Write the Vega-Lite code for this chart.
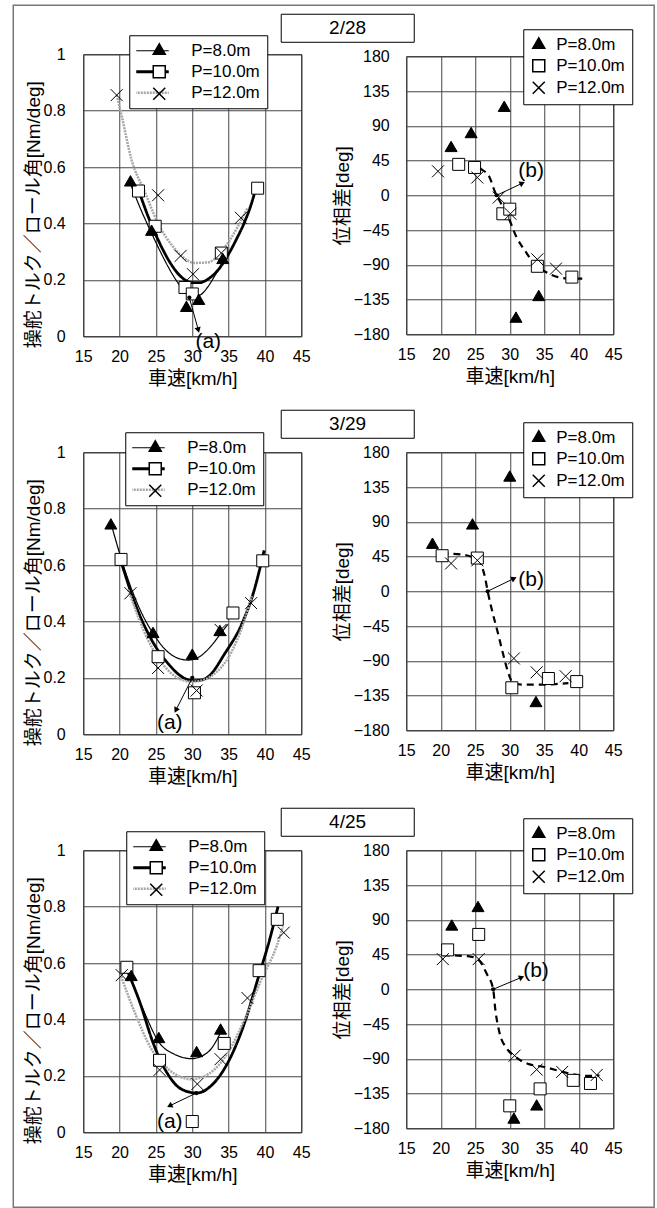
{
"$schema": "https://vega.github.io/schema/vega-lite/v6.json",
"padding": {"left": 11.25, "top": 3.25, "right": 3.25, "bottom": 1.25},
"config": {
 "font": "Liberation Sans, Noto Sans CJK JP, sans-serif",
 "text": {"font": "Liberation Sans, Noto Sans CJK JP, sans-serif"},
 "view": {"stroke": "#000", "strokeWidth": 1},
 "axis": {"grid": true, "gridColor": "#444", "gridWidth": 1, "gridOpacity": 1, "domain": false, "ticks": false, "tickSize": 0, "labelFontSize": 16, "labelColor": "#000", "labelFlush": false, "labelOverlap": false, "titleFontSize": 19, "titleFontWeight": "normal", "titleColor": "#000"},
 "legend": {"labelColor": "#000"}
},
"datasets": {
 "dates": [{"date": "2/28"}, {"date": "3/29"}, {"date": "4/25"}],
 "pts": [
  {"date":"2/28","P":10,"speed":22.6,"ratio":0.515,"phase":40},
  {"date":"2/28","P":10,"speed":24.9,"ratio":0.39,"phase":36},
  {"date":"2/28","P":10,"speed":29.0,"ratio":0.173,"phase":-24},
  {"date":"2/28","P":10,"speed":30.0,"ratio":0.15,"phase":-18},
  {"date":"2/28","P":10,"speed":34.0,"ratio":0.295,"phase":-92},
  {"date":"2/28","P":10,"speed":39.0,"ratio":0.525,"phase":-106},
  {"date":"2/28","P":12,"speed":19.6,"ratio":0.855,"phase":31},
  {"date":"2/28","P":12,"speed":25.3,"ratio":0.50,"phase":23},
  {"date":"2/28","P":12,"speed":28.4,"ratio":0.285,"phase":-3},
  {"date":"2/28","P":12,"speed":30.1,"ratio":0.22,"phase":-24},
  {"date":"2/28","P":12,"speed":34.0,"ratio":0.295,"phase":-83},
  {"date":"2/28","P":12,"speed":36.7,"ratio":0.42,"phase":-95},
  {"date":"2/28","P":8,"speed":21.5,"ratio":0.545,"phase":61},
  {"date":"2/28","P":8,"speed":24.4,"ratio":0.37,"phase":79},
  {"date":"2/28","P":8,"speed":29.2,"ratio":0.10,"phase":113},
  {"date":"2/28","P":8,"speed":30.9,"ratio":0.125,"phase":-160},
  {"date":"2/28","P":8,"speed":34.2,"ratio":0.27,"phase":-132},
  {"date":"3/29","P":10,"speed":20.2,"ratio":0.62,"phase":46},
  {"date":"3/29","P":10,"speed":25.3,"ratio":0.275,"phase":43},
  {"date":"3/29","P":10,"speed":30.3,"ratio":0.147,"phase":-125},
  {"date":"3/29","P":10,"speed":35.6,"ratio":0.43,"phase":-113},
  {"date":"3/29","P":10,"speed":39.7,"ratio":0.615,"phase":-117},
  {"date":"3/29","P":12,"speed":21.5,"ratio":0.50,"phase":36},
  {"date":"3/29","P":12,"speed":25.3,"ratio":0.235,"phase":40},
  {"date":"3/29","P":12,"speed":30.6,"ratio":0.155,"phase":-87},
  {"date":"3/29","P":12,"speed":33.9,"ratio":0.37,"phase":-105},
  {"date":"3/29","P":12,"speed":38.1,"ratio":0.465,"phase":-110},
  {"date":"3/29","P":8,"speed":18.8,"ratio":0.74,"phase":60},
  {"date":"3/29","P":8,"speed":24.6,"ratio":0.355,"phase":85},
  {"date":"3/29","P":8,"speed":30.0,"ratio":0.278,"phase":147},
  {"date":"3/29","P":8,"speed":33.8,"ratio":0.362,"phase":-145},
  {"date":"4/25","P":10,"speed":21.0,"ratio":0.585,"phase":51},
  {"date":"4/25","P":10,"speed":25.5,"ratio":0.255,"phase":71},
  {"date":"4/25","P":10,"speed":30.0,"ratio":0.038,"phase":-151},
  {"date":"4/25","P":10,"speed":34.4,"ratio":0.315,"phase":-129},
  {"date":"4/25","P":10,"speed":39.2,"ratio":0.573,"phase":-118},
  {"date":"4/25","P":10,"speed":41.7,"ratio":0.755,"phase":-122},
  {"date":"4/25","P":12,"speed":20.3,"ratio":0.557,"phase":39},
  {"date":"4/25","P":12,"speed":25.5,"ratio":0.221,"phase":39},
  {"date":"4/25","P":12,"speed":30.7,"ratio":0.171,"phase":-86},
  {"date":"4/25","P":12,"speed":33.9,"ratio":0.259,"phase":-104},
  {"date":"4/25","P":12,"speed":37.6,"ratio":0.476,"phase":-107},
  {"date":"4/25","P":12,"speed":42.6,"ratio":0.708,"phase":-111},
  {"date":"4/25","P":8,"speed":21.6,"ratio":0.55,"phase":81},
  {"date":"4/25","P":8,"speed":25.4,"ratio":0.33,"phase":105},
  {"date":"4/25","P":8,"speed":30.6,"ratio":0.28,"phase":-169},
  {"date":"4/25","P":8,"speed":33.9,"ratio":0.36,"phase":-152}
 ],
 "fitL": [
  {"date":"2/28","P":8,"speed":21.5,"ratio":0.54},{"date":"2/28","P":8,"speed":23.0,"ratio":0.445},{"date":"2/28","P":8,"speed":24.5,"ratio":0.36},{"date":"2/28","P":8,"speed":26.0,"ratio":0.28},{"date":"2/28","P":8,"speed":27.5,"ratio":0.21},{"date":"2/28","P":8,"speed":29.0,"ratio":0.158},{"date":"2/28","P":8,"speed":30.0,"ratio":0.14},{"date":"2/28","P":8,"speed":31.0,"ratio":0.145},{"date":"2/28","P":8,"speed":32.0,"ratio":0.17},{"date":"2/28","P":8,"speed":33.0,"ratio":0.21},{"date":"2/28","P":8,"speed":34.5,"ratio":0.28},
  {"date":"2/28","P":10,"speed":22.6,"ratio":0.52},{"date":"2/28","P":10,"speed":24.0,"ratio":0.42},{"date":"2/28","P":10,"speed":24.9,"ratio":0.365},{"date":"2/28","P":10,"speed":26.0,"ratio":0.305},{"date":"2/28","P":10,"speed":27.1,"ratio":0.255},{"date":"2/28","P":10,"speed":28.5,"ratio":0.21},{"date":"2/28","P":10,"speed":30.0,"ratio":0.19},{"date":"2/28","P":10,"speed":31.0,"ratio":0.19},{"date":"2/28","P":10,"speed":32.0,"ratio":0.2},{"date":"2/28","P":10,"speed":33.1,"ratio":0.222},{"date":"2/28","P":10,"speed":34.0,"ratio":0.25},{"date":"2/28","P":10,"speed":34.9,"ratio":0.287},{"date":"2/28","P":10,"speed":36.0,"ratio":0.34},{"date":"2/28","P":10,"speed":37.2,"ratio":0.405},{"date":"2/28","P":10,"speed":38.2,"ratio":0.475},{"date":"2/28","P":10,"speed":38.9,"ratio":0.54},
  {"date":"2/28","P":12,"speed":19.6,"ratio":0.855},{"date":"2/28","P":12,"speed":20.3,"ratio":0.78},{"date":"2/28","P":12,"speed":21.6,"ratio":0.63},{"date":"2/28","P":12,"speed":23.5,"ratio":0.51},{"date":"2/28","P":12,"speed":25.3,"ratio":0.4},{"date":"2/28","P":12,"speed":27.6,"ratio":0.31},{"date":"2/28","P":12,"speed":29.0,"ratio":0.275},{"date":"2/28","P":12,"speed":30.3,"ratio":0.26},{"date":"2/28","P":12,"speed":32.2,"ratio":0.262},{"date":"2/28","P":12,"speed":34.0,"ratio":0.3},{"date":"2/28","P":12,"speed":36.3,"ratio":0.39},{"date":"2/28","P":12,"speed":37.6,"ratio":0.455},
  {"date":"3/29","P":8,"speed":18.9,"ratio":0.74},{"date":"3/29","P":8,"speed":20.5,"ratio":0.6},{"date":"3/29","P":8,"speed":22.5,"ratio":0.46},{"date":"3/29","P":8,"speed":24.8,"ratio":0.35},{"date":"3/29","P":8,"speed":26.5,"ratio":0.295},{"date":"3/29","P":8,"speed":28.0,"ratio":0.27},{"date":"3/29","P":8,"speed":29.4,"ratio":0.263},{"date":"3/29","P":8,"speed":31.0,"ratio":0.275},{"date":"3/29","P":8,"speed":32.5,"ratio":0.31},{"date":"3/29","P":8,"speed":34.0,"ratio":0.36},{"date":"3/29","P":8,"speed":34.9,"ratio":0.39},
  {"date":"3/29","P":10,"speed":20.2,"ratio":0.613},{"date":"3/29","P":10,"speed":22.1,"ratio":0.465},{"date":"3/29","P":10,"speed":24.4,"ratio":0.335},{"date":"3/29","P":10,"speed":26.7,"ratio":0.25},{"date":"3/29","P":10,"speed":28.5,"ratio":0.205},{"date":"3/29","P":10,"speed":30.0,"ratio":0.19},{"date":"3/29","P":10,"speed":31.2,"ratio":0.192},{"date":"3/29","P":10,"speed":32.2,"ratio":0.204},{"date":"3/29","P":10,"speed":34.5,"ratio":0.287},{"date":"3/29","P":10,"speed":36.8,"ratio":0.39},{"date":"3/29","P":10,"speed":38.4,"ratio":0.5},{"date":"3/29","P":10,"speed":39.9,"ratio":0.652},
  {"date":"3/29","P":12,"speed":21.2,"ratio":0.512},{"date":"3/29","P":12,"speed":23.9,"ratio":0.335},{"date":"3/29","P":12,"speed":26.2,"ratio":0.24},{"date":"3/29","P":12,"speed":28.0,"ratio":0.2},{"date":"3/29","P":12,"speed":29.9,"ratio":0.186},{"date":"3/29","P":12,"speed":31.2,"ratio":0.19},{"date":"3/29","P":12,"speed":32.6,"ratio":0.206},{"date":"3/29","P":12,"speed":35.4,"ratio":0.292},{"date":"3/29","P":12,"speed":37.0,"ratio":0.39},{"date":"3/29","P":12,"speed":38.2,"ratio":0.49},
  {"date":"4/25","P":8,"speed":21.55,"ratio":0.547},{"date":"4/25","P":8,"speed":23.5,"ratio":0.42},{"date":"4/25","P":8,"speed":25.4,"ratio":0.32},{"date":"4/25","P":8,"speed":27.6,"ratio":0.276},{"date":"4/25","P":8,"speed":29.9,"ratio":0.261},{"date":"4/25","P":8,"speed":32.2,"ratio":0.285},{"date":"4/25","P":8,"speed":33.9,"ratio":0.353},
  {"date":"4/25","P":10,"speed":21.2,"ratio":0.565},{"date":"4/25","P":10,"speed":22.8,"ratio":0.46},{"date":"4/25","P":10,"speed":24.6,"ratio":0.318},{"date":"4/25","P":10,"speed":26.5,"ratio":0.212},{"date":"4/25","P":10,"speed":28.5,"ratio":0.153},{"date":"4/25","P":10,"speed":30.6,"ratio":0.139},{"date":"4/25","P":10,"speed":32.6,"ratio":0.165},{"date":"4/25","P":10,"speed":34.9,"ratio":0.247},{"date":"4/25","P":10,"speed":37.2,"ratio":0.388},{"date":"4/25","P":10,"speed":39.0,"ratio":0.541},{"date":"4/25","P":10,"speed":40.7,"ratio":0.688},{"date":"4/25","P":10,"speed":41.8,"ratio":0.8},
  {"date":"4/25","P":12,"speed":20.2,"ratio":0.553},{"date":"4/25","P":12,"speed":22.1,"ratio":0.424},{"date":"4/25","P":12,"speed":24.4,"ratio":0.294},{"date":"4/25","P":12,"speed":26.7,"ratio":0.224},{"date":"4/25","P":12,"speed":29.9,"ratio":0.188},{"date":"4/25","P":12,"speed":32.2,"ratio":0.206},{"date":"4/25","P":12,"speed":34.9,"ratio":0.282},{"date":"4/25","P":12,"speed":37.2,"ratio":0.4},{"date":"4/25","P":12,"speed":39.5,"ratio":0.541},{"date":"4/25","P":12,"speed":41.6,"ratio":0.659},{"date":"4/25","P":12,"speed":42.5,"ratio":0.73}
 ],
 "fitR": [
  {"date":"2/28","speed":22.3,"phase":41},{"date":"2/28","speed":24.0,"phase":40},{"date":"2/28","speed":25.9,"phase":33.5},{"date":"2/28","speed":27.1,"phase":22.8},{"date":"2/28","speed":27.8,"phase":5.6},{"date":"2/28","speed":28.8,"phase":-11.6},{"date":"2/28","speed":29.8,"phase":-28.8},{"date":"2/28","speed":31.0,"phase":-54.6},{"date":"2/28","speed":32.2,"phase":-71.8},{"date":"2/28","speed":33.6,"phase":-89},{"date":"2/28","speed":35.3,"phase":-99.7},{"date":"2/28","speed":37.0,"phase":-106},{"date":"2/28","speed":38.9,"phase":-108},{"date":"2/28","speed":40.6,"phase":-108},
  {"date":"3/29","speed":20.1,"phase":49},{"date":"3/29","speed":23.0,"phase":47.7},{"date":"3/29","speed":25.4,"phase":40},{"date":"3/29","speed":26.4,"phase":18.5},{"date":"3/29","speed":26.8,"phase":0},{"date":"3/29","speed":27.3,"phase":-20},{"date":"3/29","speed":28.3,"phase":-54.6},{"date":"3/29","speed":29.0,"phase":-80},{"date":"3/29","speed":29.8,"phase":-106},{"date":"3/29","speed":30.5,"phase":-119},{"date":"3/29","speed":32.2,"phase":-121},{"date":"3/29","speed":34.6,"phase":-121},{"date":"3/29","speed":37.0,"phase":-120},{"date":"3/29","speed":38.5,"phase":-119},
  {"date":"4/25","speed":20.3,"phase":44},{"date":"4/25","speed":23.9,"phase":42.9},{"date":"4/25","speed":25.4,"phase":38.6},{"date":"4/25","speed":26.7,"phase":19.3},{"date":"4/25","speed":27.6,"phase":0},{"date":"4/25","speed":27.9,"phase":-25.7},{"date":"4/25","speed":28.5,"phase":-55.7},{"date":"4/25","speed":29.6,"phase":-77},{"date":"4/25","speed":30.7,"phase":-86.6},{"date":"4/25","speed":32.6,"phase":-96.4},{"date":"4/25","speed":35.0,"phase":-100.7},{"date":"4/25","speed":37.4,"phase":-106.3},{"date":"4/25","speed":39.4,"phase":-110.6},{"date":"4/25","speed":41.3,"phase":-112.3},{"date":"4/25","speed":43.0,"phase":-111.5}
 ],
 "ann": [
  {"date":"2/28","k":"a","role":"start","speed":29.6,"ratio":0.137},
  {"date":"2/28","k":"a","role":"end","speed":30.8,"ratio":0.025},
  {"date":"2/28","k":"a","role":"text","speed":32.2,"ratio":-0.021,"label":"(a)"},
  {"date":"3/29","k":"a","role":"start","speed":30.0,"ratio":0.2},
  {"date":"3/29","k":"a","role":"end","speed":27.8,"ratio":0.088},
  {"date":"3/29","k":"a","role":"text","speed":26.9,"ratio":0.04,"label":"(a)"},
  {"date":"4/25","k":"a","role":"start","speed":30.55,"ratio":0.139},
  {"date":"4/25","k":"a","role":"end","speed":27.0,"ratio":0.095},
  {"date":"4/25","k":"a","role":"text","speed":26.9,"ratio":0.037,"label":"(a)"},
  {"date":"2/28","k":"b","role":"start","speed":28.1,"phase":0},
  {"date":"2/28","k":"b","role":"end","speed":31.7,"phase":15},
  {"date":"2/28","k":"b","role":"text","speed":33.1,"phase":32,"label":"(b)"},
  {"date":"3/29","k":"b","role":"start","speed":26.8,"phase":0},
  {"date":"3/29","k":"b","role":"end","speed":30.5,"phase":16},
  {"date":"3/29","k":"b","role":"text","speed":33.1,"phase":14,"label":"(b)"},
  {"date":"4/25","k":"b","role":"start","speed":27.6,"phase":0},
  {"date":"4/25","k":"b","role":"end","speed":31.6,"phase":15},
  {"date":"4/25","k":"b","role":"text","speed":33.8,"phase":24,"label":"(b)"}
 ]
},
"columns": 2,
"spacing": {"row": 116, "column": 105},
"bounds": "flush",
"align": "each",
"center": true,
"resolve": {"scale": {"fill": "independent", "shape": "independent", "stroke": "independent", "strokeDash": "independent"}, "legend": {"fill": "independent", "shape": "independent", "stroke": "independent", "strokeDash": "independent"}},
"concat": [
  {"width": 218, "height": 282,
   "layer": [
    {"data": {"name": "dates"}, "transform": [{"filter": "datum.date == '2/28'"}],
     "mark": {"type": "rect", "fill": "#fff", "fillOpacity": 0, "stroke": "#777", "strokeWidth": 1.5},
     "encoding": {"x": {"datum": 5.37, "type": "quantitative", "title": "車速[km/h]", "scale": {"domain": [15, 45], "nice": false, "zero": false}, "axis": {"values": [15,20,25,30,35,40,45], "tickCount": 20, "labelPadding": 12, "titlePadding": 5, "title": "車速[km/h]"}}, "x2": {"datum": 93.57}, "y": {"datum": 1.1738, "type": "quantitative", "title": "操舵トルク／ロール角[Nm/deg]", "scale": {"domain": [0, 1], "nice": false, "zero": false}, "axis": {"values": [0,0.2,0.4,0.6,0.8,1], "tickCount": 20, "format": ".1~f", "labelPadding": 18, "titlePadding": 0, "titleY": 160, "title": "操舵トルク／ロール角[Nm/deg]"}}, "y2": {"datum": -3.0887}}},
    {"data": {"name": "fitL"}, "transform": [{"filter": "datum.date == '2/28'"}],
     "mark": {"type": "line", "interpolate": "monotone"},
     "encoding": {
      "x": {"field": "speed", "type": "quantitative", "title": "車速[km/h]", "scale": {"domain": [15, 45], "nice": false, "zero": false}, "axis": {"values": [15,20,25,30,35,40,45], "tickCount": 20, "labelPadding": 12, "titlePadding": 5, "title": "車速[km/h]"}},
      "y": {"field": "ratio", "type": "quantitative", "title": "操舵トルク／ロール角[Nm/deg]", "scale": {"domain": [0, 1], "nice": false, "zero": false}, "axis": {"values": [0,0.2,0.4,0.6,0.8,1], "tickCount": 20, "format": ".1~f", "labelPadding": 18, "titlePadding": 0, "titleY": 160, "title": "操舵トルク／ロール角[Nm/deg]"}},
      "stroke": {"field": "P", "type": "ordinal", "scale": {"range": ["#000", "#000", "#a6a6a6"]}, "legend": {"orient": "none", "legendX": 46, "legendY": -19, "title": null, "labelExpr": "'P=' + format(datum.value, '.1f') + 'm'", "labelFontSize": 17, "labelOffset": 31, "symbolType": "stroke", "symbolSize": 1156, "symbolOffset": 7, "clipHeight": 17, "padding": 7, "rowPadding": 3, "strokeColor": "#000", "fillColor": "#fff", "encode": {"symbols": {"update": {"strokeWidth": {"signal": "datum.value == 10 ? 2.8 : datum.value == 12 ? 2.5 : 1.2"}}}}}},
      "strokeDash": {"field": "P", "type": "ordinal", "scale": {"range": [[1,0],[1,0],[2,1]]}, "legend": {"orient": "none", "legendX": 46, "legendY": -19, "title": null, "labelExpr": "'P=' + format(datum.value, '.1f') + 'm'", "labelFontSize": 17, "labelOffset": 31, "symbolType": "stroke", "symbolSize": 1156, "symbolOffset": 7, "clipHeight": 17, "padding": 7, "rowPadding": 3, "strokeColor": "#000", "fillColor": "#fff"}},
      "strokeWidth": {"condition": [{"test": "datum.P == 10", "value": 2.8}, {"test": "datum.P == 12", "value": 2.5}], "value": 1.2}
     }},
    {"data": {"name": "pts"}, "transform": [{"filter": "datum.date == '2/28'"}],
     "mark": {"type": "point", "filled": true, "stroke": "#000", "strokeWidth": 1, "size": 144, "opacity": 1},
     "encoding": {
      "x": {"field": "speed", "type": "quantitative", "title": "車速[km/h]", "axis": {"values": [15,20,25,30,35,40,45], "tickCount": 20, "labelPadding": 12, "titlePadding": 5, "title": "車速[km/h]"}},
      "y": {"field": "ratio", "type": "quantitative", "title": "操舵トルク／ロール角[Nm/deg]", "axis": {"values": [0,0.2,0.4,0.6,0.8,1], "tickCount": 20, "format": ".1~f", "labelPadding": 18, "titlePadding": 0, "titleY": 160, "title": "操舵トルク／ロール角[Nm/deg]"}},
      "fill": {"field": "P", "type": "ordinal", "scale": {"range": ["#000", "#fff", "#000"]}, "legend": {"orient": "none", "legendX": 46, "legendY": -19, "title": null, "labelExpr": "''", "labelOpacity": 0, "labelFontSize": 17, "labelOffset": 42.5, "symbolOffset": 14.5, "symbolSize": 144, "padding": 7, "rowPadding": 3, "encode": {"symbols": {"update": {"stroke": {"value": "#000"}, "strokeWidth": {"value": 1}}}}}},
      "shape": {"field": "P", "type": "ordinal", "scale": {"range": ["triangle", "square", "M-1,-1L1,1M-1,1L1,-1"]}, "legend": {"orient": "none", "legendX": 46, "legendY": -19, "title": null, "labelExpr": "''", "labelOpacity": 0, "labelFontSize": 17, "labelOffset": 42.5, "symbolOffset": 14.5, "symbolSize": 144, "padding": 7, "rowPadding": 3}}
     }},
    {"data": {"name": "ann"}, "transform": [{"filter": "datum.date == '2/28' && datum.k == 'a' && datum.role != 'text'"}],
     "mark": {"type": "line", "stroke": "#000", "strokeWidth": 1},
     "encoding": {"x": {"field": "speed", "type": "quantitative", "title": "車速[km/h]"}, "y": {"field": "ratio", "type": "quantitative", "title": "操舵トルク／ロール角[Nm/deg]"}}},
    {"data": {"name": "ann"}, "transform": [{"filter": "datum.date == '2/28' && datum.k == 'a' && datum.role == 'start'"}],
     "mark": {"type": "point", "shape": "circle", "filled": true, "fill": "#000", "size": 18, "opacity": 1},
     "encoding": {"x": {"field": "speed", "type": "quantitative", "title": "車速[km/h]"}, "y": {"field": "ratio", "type": "quantitative", "title": "操舵トルク／ロール角[Nm/deg]"}}},
    {"data": {"name": "ann"}, "transform": [{"filter": "datum.date == '2/28' && datum.k == 'a' && datum.role == 'end'"}],
     "mark": {"type": "point", "shape": "triangle", "filled": true, "fill": "#000", "size": 40, "angle": 164.6, "opacity": 1},
     "encoding": {"x": {"field": "speed", "type": "quantitative", "title": "車速[km/h]"}, "y": {"field": "ratio", "type": "quantitative", "title": "操舵トルク／ロール角[Nm/deg]"}}},
    {"data": {"name": "ann"}, "transform": [{"filter": "datum.date == '2/28' && datum.k == 'a' && datum.role == 'text'"}],
     "mark": {"type": "text", "fontSize": 21, "align": "center", "baseline": "middle", "color": "#000"},
     "encoding": {"x": {"field": "speed", "type": "quantitative", "title": "車速[km/h]"}, "y": {"field": "ratio", "type": "quantitative", "title": "操舵トルク／ロール角[Nm/deg]"}, "text": {"field": "label"}}}
   ]},
  {"width": 207, "height": 278,
   "layer": [
    {"data": {"name": "dates"}, "transform": [{"filter": "datum.date == '2/28'"}],
     "mark": {"type": "rect", "fill": "#fff", "stroke": "#000", "strokeWidth": 1},
     "encoding": {"x": {"datum": -3.12, "type": "quantitative", "title": "車速[km/h]", "scale": {"domain": [15, 45], "nice": false, "zero": false}, "axis": {"values": [15,20,25,30,35,40,45], "tickCount": 20, "labelPadding": 12, "titlePadding": 5, "title": "車速[km/h]"}}, "x2": {"datum": 16.16}, "y": {"datum": 234.4, "type": "quantitative", "title": "位相差[deg]", "scale": {"domain": [-180, 180], "nice": false, "zero": false}, "axis": {"values": [-180,-135,-90,-45,0,45,90,135,180], "tickCount": 20, "labelPadding": 17, "titlePadding": 1, "title": "位相差[deg]"}}, "y2": {"datum": 198.1}}},
    {"data": {"name": "dates"}, "transform": [{"filter": "datum.date == '2/28'"}],
     "mark": {"type": "text", "fontSize": 19, "align": "center", "baseline": "middle", "color": "#000"},
     "encoding": {"x": {"datum": 6.5, "type": "quantitative", "title": "車速[km/h]"}, "y": {"datum": 216, "type": "quantitative", "title": "位相差[deg]"}, "text": {"field": "date"}}},
    {"data": {"name": "fitR"}, "transform": [{"filter": "datum.date == '2/28'"}],
     "mark": {"type": "line", "interpolate": "monotone", "stroke": "#000", "strokeWidth": 2.2, "strokeDash": [7, 5]},
     "encoding": {
      "x": {"field": "speed", "type": "quantitative", "title": "車速[km/h]", "scale": {"domain": [15, 45], "nice": false, "zero": false}, "axis": {"values": [15,20,25,30,35,40,45], "tickCount": 20, "labelPadding": 12, "titlePadding": 5, "title": "車速[km/h]"}},
      "y": {"field": "phase", "type": "quantitative", "title": "位相差[deg]", "scale": {"domain": [-180, 180], "nice": false, "zero": false}, "axis": {"values": [-180,-135,-90,-45,0,45,90,135,180], "tickCount": 20, "labelPadding": 17, "titlePadding": 1, "title": "位相差[deg]"}}
     }},
    {"data": {"name": "pts"}, "transform": [{"filter": "datum.date == '2/28'"}],
     "mark": {"type": "point", "filled": true, "stroke": "#000", "strokeWidth": 1, "size": 144, "opacity": 1},
     "encoding": {
      "x": {"field": "speed", "type": "quantitative", "title": "車速[km/h]", "axis": {"values": [15,20,25,30,35,40,45], "tickCount": 20, "labelPadding": 12, "titlePadding": 5, "title": "車速[km/h]"}},
      "y": {"field": "phase", "type": "quantitative", "title": "位相差[deg]", "axis": {"values": [-180,-135,-90,-45,0,45,90,135,180], "tickCount": 20, "labelPadding": 17, "titlePadding": 1, "title": "位相差[deg]"}},
      "fill": {"field": "P", "type": "ordinal", "scale": {"range": ["#000", "#fff", "#000"]}, "legend": {"orient": "none", "legendX": 117, "legendY": -27, "title": null, "labelExpr": "'P=' + format(datum.value, '.1f') + 'm'", "labelFontSize": 17, "labelOffset": 9, "symbolOffset": 0, "symbolSize": 144, "padding": 7, "rowPadding": 3, "strokeColor": "#000", "fillColor": "#fff", "encode": {"symbols": {"update": {"stroke": {"value": "#000"}, "strokeWidth": {"value": 1}}}}}},
      "shape": {"field": "P", "type": "ordinal", "scale": {"range": ["triangle", "square", "M-1,-1L1,1M-1,1L1,-1"]}, "legend": {"orient": "none", "legendX": 117, "legendY": -27, "title": null, "labelExpr": "'P=' + format(datum.value, '.1f') + 'm'", "labelFontSize": 17, "labelOffset": 9, "symbolOffset": 0, "symbolSize": 144, "padding": 7, "rowPadding": 3, "strokeColor": "#000", "fillColor": "#fff"}}
     }},
    {"data": {"name": "ann"}, "transform": [{"filter": "datum.date == '2/28' && datum.k == 'b' && datum.role != 'text'"}],
     "mark": {"type": "line", "stroke": "#000", "strokeWidth": 1},
     "encoding": {"x": {"field": "speed", "type": "quantitative", "title": "車速[km/h]"}, "y": {"field": "phase", "type": "quantitative", "title": "位相差[deg]"}}},
    {"data": {"name": "ann"}, "transform": [{"filter": "datum.date == '2/28' && datum.k == 'b' && datum.role == 'start'"}],
     "mark": {"type": "point", "shape": "circle", "filled": true, "fill": "#000", "size": 18, "opacity": 1},
     "encoding": {"x": {"field": "speed", "type": "quantitative", "title": "車速[km/h]"}, "y": {"field": "phase", "type": "quantitative", "title": "位相差[deg]"}}},
    {"data": {"name": "ann"}, "transform": [{"filter": "datum.date == '2/28' && datum.k == 'b' && datum.role == 'end'"}],
     "mark": {"type": "point", "shape": "triangle", "filled": true, "fill": "#000", "size": 40, "angle": 65, "opacity": 1},
     "encoding": {"x": {"field": "speed", "type": "quantitative", "title": "車速[km/h]"}, "y": {"field": "phase", "type": "quantitative", "title": "位相差[deg]"}}},
    {"data": {"name": "ann"}, "transform": [{"filter": "datum.date == '2/28' && datum.k == 'b' && datum.role == 'text'"}],
     "mark": {"type": "text", "fontSize": 21, "align": "center", "baseline": "middle", "color": "#000"},
     "encoding": {"x": {"field": "speed", "type": "quantitative", "title": "車速[km/h]"}, "y": {"field": "phase", "type": "quantitative", "title": "位相差[deg]"}, "text": {"field": "label"}}}
   ]},
  {"width": 218, "height": 282,
   "layer": [
    {"data": {"name": "fitL"}, "transform": [{"filter": "datum.date == '3/29'"}],
     "mark": {"type": "line", "interpolate": "monotone"},
     "encoding": {
      "x": {"field": "speed", "type": "quantitative", "title": "車速[km/h]", "scale": {"domain": [15, 45], "nice": false, "zero": false}, "axis": {"values": [15,20,25,30,35,40,45], "tickCount": 20, "labelPadding": 12, "titlePadding": 5, "title": "車速[km/h]"}},
      "y": {"field": "ratio", "type": "quantitative", "title": "操舵トルク／ロール角[Nm/deg]", "scale": {"domain": [0, 1], "nice": false, "zero": false}, "axis": {"values": [0,0.2,0.4,0.6,0.8,1], "tickCount": 20, "format": ".1~f", "labelPadding": 18, "titlePadding": 0, "titleY": 160, "title": "操舵トルク／ロール角[Nm/deg]"}},
      "stroke": {"field": "P", "type": "ordinal", "scale": {"range": ["#000", "#000", "#a6a6a6"]}, "legend": {"orient": "none", "legendX": 42, "legendY": -20, "title": null, "labelExpr": "'P=' + format(datum.value, '.1f') + 'm'", "labelFontSize": 17, "labelOffset": 31, "symbolType": "stroke", "symbolSize": 1156, "symbolOffset": 7, "clipHeight": 17, "padding": 7, "rowPadding": 3, "strokeColor": "#000", "fillColor": "#fff", "encode": {"symbols": {"update": {"strokeWidth": {"signal": "datum.value == 10 ? 2.8 : datum.value == 12 ? 2.5 : 1.2"}}}}}},
      "strokeDash": {"field": "P", "type": "ordinal", "scale": {"range": [[1,0],[1,0],[2,1]]}, "legend": {"orient": "none", "legendX": 42, "legendY": -20, "title": null, "labelExpr": "'P=' + format(datum.value, '.1f') + 'm'", "labelFontSize": 17, "labelOffset": 31, "symbolType": "stroke", "symbolSize": 1156, "symbolOffset": 7, "clipHeight": 17, "padding": 7, "rowPadding": 3, "strokeColor": "#000", "fillColor": "#fff"}},
      "strokeWidth": {"condition": [{"test": "datum.P == 10", "value": 2.8}, {"test": "datum.P == 12", "value": 2.5}], "value": 1.2}
     }},
    {"data": {"name": "pts"}, "transform": [{"filter": "datum.date == '3/29'"}],
     "mark": {"type": "point", "filled": true, "stroke": "#000", "strokeWidth": 1, "size": 144, "opacity": 1},
     "encoding": {
      "x": {"field": "speed", "type": "quantitative", "title": "車速[km/h]", "axis": {"values": [15,20,25,30,35,40,45], "tickCount": 20, "labelPadding": 12, "titlePadding": 5, "title": "車速[km/h]"}},
      "y": {"field": "ratio", "type": "quantitative", "title": "操舵トルク／ロール角[Nm/deg]", "axis": {"values": [0,0.2,0.4,0.6,0.8,1], "tickCount": 20, "format": ".1~f", "labelPadding": 18, "titlePadding": 0, "titleY": 160, "title": "操舵トルク／ロール角[Nm/deg]"}},
      "fill": {"field": "P", "type": "ordinal", "scale": {"range": ["#000", "#fff", "#000"]}, "legend": {"orient": "none", "legendX": 42, "legendY": -20, "title": null, "labelExpr": "''", "labelOpacity": 0, "labelFontSize": 17, "labelOffset": 42.5, "symbolOffset": 14.5, "symbolSize": 144, "padding": 7, "rowPadding": 3, "encode": {"symbols": {"update": {"stroke": {"value": "#000"}, "strokeWidth": {"value": 1}}}}}},
      "shape": {"field": "P", "type": "ordinal", "scale": {"range": ["triangle", "square", "M-1,-1L1,1M-1,1L1,-1"]}, "legend": {"orient": "none", "legendX": 42, "legendY": -20, "title": null, "labelExpr": "''", "labelOpacity": 0, "labelFontSize": 17, "labelOffset": 42.5, "symbolOffset": 14.5, "symbolSize": 144, "padding": 7, "rowPadding": 3}}
     }},
    {"data": {"name": "ann"}, "transform": [{"filter": "datum.date == '3/29' && datum.k == 'a' && datum.role != 'text'"}],
     "mark": {"type": "line", "stroke": "#000", "strokeWidth": 1},
     "encoding": {"x": {"field": "speed", "type": "quantitative", "title": "車速[km/h]"}, "y": {"field": "ratio", "type": "quantitative", "title": "操舵トルク／ロール角[Nm/deg]"}}},
    {"data": {"name": "ann"}, "transform": [{"filter": "datum.date == '3/29' && datum.k == 'a' && datum.role == 'start'"}],
     "mark": {"type": "point", "shape": "circle", "filled": true, "fill": "#000", "size": 18, "opacity": 1},
     "encoding": {"x": {"field": "speed", "type": "quantitative", "title": "車速[km/h]"}, "y": {"field": "ratio", "type": "quantitative", "title": "操舵トルク／ロール角[Nm/deg]"}}},
    {"data": {"name": "ann"}, "transform": [{"filter": "datum.date == '3/29' && datum.k == 'a' && datum.role == 'end'"}],
     "mark": {"type": "point", "shape": "triangle", "filled": true, "fill": "#000", "size": 40, "angle": 206.9, "opacity": 1},
     "encoding": {"x": {"field": "speed", "type": "quantitative", "title": "車速[km/h]"}, "y": {"field": "ratio", "type": "quantitative", "title": "操舵トルク／ロール角[Nm/deg]"}}},
    {"data": {"name": "ann"}, "transform": [{"filter": "datum.date == '3/29' && datum.k == 'a' && datum.role == 'text'"}],
     "mark": {"type": "text", "fontSize": 21, "align": "center", "baseline": "middle", "color": "#000"},
     "encoding": {"x": {"field": "speed", "type": "quantitative", "title": "車速[km/h]"}, "y": {"field": "ratio", "type": "quantitative", "title": "操舵トルク／ロール角[Nm/deg]"}, "text": {"field": "label"}}}
   ]},
  {"width": 207, "height": 278,
   "layer": [
    {"data": {"name": "dates"}, "transform": [{"filter": "datum.date == '3/29'"}],
     "mark": {"type": "rect", "fill": "#fff", "stroke": "#000", "strokeWidth": 1},
     "encoding": {"x": {"datum": -3.12, "type": "quantitative", "title": "車速[km/h]", "scale": {"domain": [15, 45], "nice": false, "zero": false}, "axis": {"values": [15,20,25,30,35,40,45], "tickCount": 20, "labelPadding": 12, "titlePadding": 5, "title": "車速[km/h]"}}, "x2": {"datum": 16.16}, "y": {"datum": 234.4, "type": "quantitative", "title": "位相差[deg]", "scale": {"domain": [-180, 180], "nice": false, "zero": false}, "axis": {"values": [-180,-135,-90,-45,0,45,90,135,180], "tickCount": 20, "labelPadding": 17, "titlePadding": 1, "title": "位相差[deg]"}}, "y2": {"datum": 198.1}}},
    {"data": {"name": "dates"}, "transform": [{"filter": "datum.date == '3/29'"}],
     "mark": {"type": "text", "fontSize": 19, "align": "center", "baseline": "middle", "color": "#000"},
     "encoding": {"x": {"datum": 6.5, "type": "quantitative", "title": "車速[km/h]"}, "y": {"datum": 216, "type": "quantitative", "title": "位相差[deg]"}, "text": {"field": "date"}}},
    {"data": {"name": "fitR"}, "transform": [{"filter": "datum.date == '3/29'"}],
     "mark": {"type": "line", "interpolate": "monotone", "stroke": "#000", "strokeWidth": 2.2, "strokeDash": [7, 5]},
     "encoding": {
      "x": {"field": "speed", "type": "quantitative", "title": "車速[km/h]", "scale": {"domain": [15, 45], "nice": false, "zero": false}, "axis": {"values": [15,20,25,30,35,40,45], "tickCount": 20, "labelPadding": 12, "titlePadding": 5, "title": "車速[km/h]"}},
      "y": {"field": "phase", "type": "quantitative", "title": "位相差[deg]", "scale": {"domain": [-180, 180], "nice": false, "zero": false}, "axis": {"values": [-180,-135,-90,-45,0,45,90,135,180], "tickCount": 20, "labelPadding": 17, "titlePadding": 1, "title": "位相差[deg]"}}
     }},
    {"data": {"name": "pts"}, "transform": [{"filter": "datum.date == '3/29'"}],
     "mark": {"type": "point", "filled": true, "stroke": "#000", "strokeWidth": 1, "size": 144, "opacity": 1},
     "encoding": {
      "x": {"field": "speed", "type": "quantitative", "title": "車速[km/h]", "axis": {"values": [15,20,25,30,35,40,45], "tickCount": 20, "labelPadding": 12, "titlePadding": 5, "title": "車速[km/h]"}},
      "y": {"field": "phase", "type": "quantitative", "title": "位相差[deg]", "axis": {"values": [-180,-135,-90,-45,0,45,90,135,180], "tickCount": 20, "labelPadding": 17, "titlePadding": 1, "title": "位相差[deg]"}},
      "fill": {"field": "P", "type": "ordinal", "scale": {"range": ["#000", "#fff", "#000"]}, "legend": {"orient": "none", "legendX": 117, "legendY": -30, "title": null, "labelExpr": "'P=' + format(datum.value, '.1f') + 'm'", "labelFontSize": 17, "labelOffset": 9, "symbolOffset": 0, "symbolSize": 144, "padding": 7, "rowPadding": 3, "strokeColor": "#000", "fillColor": "#fff", "encode": {"symbols": {"update": {"stroke": {"value": "#000"}, "strokeWidth": {"value": 1}}}}}},
      "shape": {"field": "P", "type": "ordinal", "scale": {"range": ["triangle", "square", "M-1,-1L1,1M-1,1L1,-1"]}, "legend": {"orient": "none", "legendX": 117, "legendY": -30, "title": null, "labelExpr": "'P=' + format(datum.value, '.1f') + 'm'", "labelFontSize": 17, "labelOffset": 9, "symbolOffset": 0, "symbolSize": 144, "padding": 7, "rowPadding": 3, "strokeColor": "#000", "fillColor": "#fff"}}
     }},
    {"data": {"name": "ann"}, "transform": [{"filter": "datum.date == '3/29' && datum.k == 'b' && datum.role != 'text'"}],
     "mark": {"type": "line", "stroke": "#000", "strokeWidth": 1},
     "encoding": {"x": {"field": "speed", "type": "quantitative", "title": "車速[km/h]"}, "y": {"field": "phase", "type": "quantitative", "title": "位相差[deg]"}}},
    {"data": {"name": "ann"}, "transform": [{"filter": "datum.date == '3/29' && datum.k == 'b' && datum.role == 'start'"}],
     "mark": {"type": "point", "shape": "circle", "filled": true, "fill": "#000", "size": 18, "opacity": 1},
     "encoding": {"x": {"field": "speed", "type": "quantitative", "title": "車速[km/h]"}, "y": {"field": "phase", "type": "quantitative", "title": "位相差[deg]"}}},
    {"data": {"name": "ann"}, "transform": [{"filter": "datum.date == '3/29' && datum.k == 'b' && datum.role == 'end'"}],
     "mark": {"type": "point", "shape": "triangle", "filled": true, "fill": "#000", "size": 40, "angle": 64, "opacity": 1},
     "encoding": {"x": {"field": "speed", "type": "quantitative", "title": "車速[km/h]"}, "y": {"field": "phase", "type": "quantitative", "title": "位相差[deg]"}}},
    {"data": {"name": "ann"}, "transform": [{"filter": "datum.date == '3/29' && datum.k == 'b' && datum.role == 'text'"}],
     "mark": {"type": "text", "fontSize": 21, "align": "center", "baseline": "middle", "color": "#000"},
     "encoding": {"x": {"field": "speed", "type": "quantitative", "title": "車速[km/h]"}, "y": {"field": "phase", "type": "quantitative", "title": "位相差[deg]"}, "text": {"field": "label"}}}
   ]},
  {"width": 218, "height": 282,
   "layer": [
    {"data": {"name": "fitL"}, "transform": [{"filter": "datum.date == '4/25'"}],
     "mark": {"type": "line", "interpolate": "monotone"},
     "encoding": {
      "x": {"field": "speed", "type": "quantitative", "title": "車速[km/h]", "scale": {"domain": [15, 45], "nice": false, "zero": false}, "axis": {"values": [15,20,25,30,35,40,45], "tickCount": 20, "labelPadding": 12, "titlePadding": 5, "title": "車速[km/h]"}},
      "y": {"field": "ratio", "type": "quantitative", "title": "操舵トルク／ロール角[Nm/deg]", "scale": {"domain": [0, 1], "nice": false, "zero": false}, "axis": {"values": [0,0.2,0.4,0.6,0.8,1], "tickCount": 20, "format": ".1~f", "labelPadding": 18, "titlePadding": 0, "titleY": 160, "title": "操舵トルク／ロール角[Nm/deg]"}},
      "stroke": {"field": "P", "type": "ordinal", "scale": {"range": ["#000", "#000", "#a6a6a6"]}, "legend": {"orient": "none", "legendX": 43, "legendY": -19, "title": null, "labelExpr": "'P=' + format(datum.value, '.1f') + 'm'", "labelFontSize": 17, "labelOffset": 31, "symbolType": "stroke", "symbolSize": 1156, "symbolOffset": 7, "clipHeight": 17, "padding": 7, "rowPadding": 3, "strokeColor": "#000", "fillColor": "#fff", "encode": {"symbols": {"update": {"strokeWidth": {"signal": "datum.value == 10 ? 2.8 : datum.value == 12 ? 2.5 : 1.2"}}}}}},
      "strokeDash": {"field": "P", "type": "ordinal", "scale": {"range": [[1,0],[1,0],[2,1]]}, "legend": {"orient": "none", "legendX": 43, "legendY": -19, "title": null, "labelExpr": "'P=' + format(datum.value, '.1f') + 'm'", "labelFontSize": 17, "labelOffset": 31, "symbolType": "stroke", "symbolSize": 1156, "symbolOffset": 7, "clipHeight": 17, "padding": 7, "rowPadding": 3, "strokeColor": "#000", "fillColor": "#fff"}},
      "strokeWidth": {"condition": [{"test": "datum.P == 10", "value": 2.8}, {"test": "datum.P == 12", "value": 2.5}], "value": 1.2}
     }},
    {"data": {"name": "pts"}, "transform": [{"filter": "datum.date == '4/25'"}],
     "mark": {"type": "point", "filled": true, "stroke": "#000", "strokeWidth": 1, "size": 144, "opacity": 1},
     "encoding": {
      "x": {"field": "speed", "type": "quantitative", "title": "車速[km/h]", "axis": {"values": [15,20,25,30,35,40,45], "tickCount": 20, "labelPadding": 12, "titlePadding": 5, "title": "車速[km/h]"}},
      "y": {"field": "ratio", "type": "quantitative", "title": "操舵トルク／ロール角[Nm/deg]", "axis": {"values": [0,0.2,0.4,0.6,0.8,1], "tickCount": 20, "format": ".1~f", "labelPadding": 18, "titlePadding": 0, "titleY": 160, "title": "操舵トルク／ロール角[Nm/deg]"}},
      "fill": {"field": "P", "type": "ordinal", "scale": {"range": ["#000", "#fff", "#000"]}, "legend": {"orient": "none", "legendX": 43, "legendY": -19, "title": null, "labelExpr": "''", "labelOpacity": 0, "labelFontSize": 17, "labelOffset": 42.5, "symbolOffset": 14.5, "symbolSize": 144, "padding": 7, "rowPadding": 3, "encode": {"symbols": {"update": {"stroke": {"value": "#000"}, "strokeWidth": {"value": 1}}}}}},
      "shape": {"field": "P", "type": "ordinal", "scale": {"range": ["triangle", "square", "M-1,-1L1,1M-1,1L1,-1"]}, "legend": {"orient": "none", "legendX": 43, "legendY": -19, "title": null, "labelExpr": "''", "labelOpacity": 0, "labelFontSize": 17, "labelOffset": 42.5, "symbolOffset": 14.5, "symbolSize": 144, "padding": 7, "rowPadding": 3}}
     }},
    {"data": {"name": "ann"}, "transform": [{"filter": "datum.date == '4/25' && datum.k == 'a' && datum.role != 'text'"}],
     "mark": {"type": "line", "stroke": "#000", "strokeWidth": 1},
     "encoding": {"x": {"field": "speed", "type": "quantitative", "title": "車速[km/h]"}, "y": {"field": "ratio", "type": "quantitative", "title": "操舵トルク／ロール角[Nm/deg]"}}},
    {"data": {"name": "ann"}, "transform": [{"filter": "datum.date == '4/25' && datum.k == 'a' && datum.role == 'start'"}],
     "mark": {"type": "point", "shape": "circle", "filled": true, "fill": "#000", "size": 18, "opacity": 1},
     "encoding": {"x": {"field": "speed", "type": "quantitative", "title": "車速[km/h]"}, "y": {"field": "ratio", "type": "quantitative", "title": "操舵トルク／ロール角[Nm/deg]"}}},
    {"data": {"name": "ann"}, "transform": [{"filter": "datum.date == '4/25' && datum.k == 'a' && datum.role == 'end'"}],
     "mark": {"type": "point", "shape": "triangle", "filled": true, "fill": "#000", "size": 40, "angle": 244.3, "opacity": 1},
     "encoding": {"x": {"field": "speed", "type": "quantitative", "title": "車速[km/h]"}, "y": {"field": "ratio", "type": "quantitative", "title": "操舵トルク／ロール角[Nm/deg]"}}},
    {"data": {"name": "ann"}, "transform": [{"filter": "datum.date == '4/25' && datum.k == 'a' && datum.role == 'text'"}],
     "mark": {"type": "text", "fontSize": 21, "align": "center", "baseline": "middle", "color": "#000"},
     "encoding": {"x": {"field": "speed", "type": "quantitative", "title": "車速[km/h]"}, "y": {"field": "ratio", "type": "quantitative", "title": "操舵トルク／ロール角[Nm/deg]"}, "text": {"field": "label"}}}
   ]},
  {"width": 207, "height": 278,
   "layer": [
    {"data": {"name": "dates"}, "transform": [{"filter": "datum.date == '4/25'"}],
     "mark": {"type": "rect", "fill": "#fff", "stroke": "#000", "strokeWidth": 1},
     "encoding": {"x": {"datum": -3.12, "type": "quantitative", "title": "車速[km/h]", "scale": {"domain": [15, 45], "nice": false, "zero": false}, "axis": {"values": [15,20,25,30,35,40,45], "tickCount": 20, "labelPadding": 12, "titlePadding": 5, "title": "車速[km/h]"}}, "x2": {"datum": 16.16}, "y": {"datum": 234.4, "type": "quantitative", "title": "位相差[deg]", "scale": {"domain": [-180, 180], "nice": false, "zero": false}, "axis": {"values": [-180,-135,-90,-45,0,45,90,135,180], "tickCount": 20, "labelPadding": 17, "titlePadding": 1, "title": "位相差[deg]"}}, "y2": {"datum": 198.1}}},
    {"data": {"name": "dates"}, "transform": [{"filter": "datum.date == '4/25'"}],
     "mark": {"type": "text", "fontSize": 19, "align": "center", "baseline": "middle", "color": "#000"},
     "encoding": {"x": {"datum": 6.5, "type": "quantitative", "title": "車速[km/h]"}, "y": {"datum": 216, "type": "quantitative", "title": "位相差[deg]"}, "text": {"field": "date"}}},
    {"data": {"name": "fitR"}, "transform": [{"filter": "datum.date == '4/25'"}],
     "mark": {"type": "line", "interpolate": "monotone", "stroke": "#000", "strokeWidth": 2.2, "strokeDash": [7, 5]},
     "encoding": {
      "x": {"field": "speed", "type": "quantitative", "title": "車速[km/h]", "scale": {"domain": [15, 45], "nice": false, "zero": false}, "axis": {"values": [15,20,25,30,35,40,45], "tickCount": 20, "labelPadding": 12, "titlePadding": 5, "title": "車速[km/h]"}},
      "y": {"field": "phase", "type": "quantitative", "title": "位相差[deg]", "scale": {"domain": [-180, 180], "nice": false, "zero": false}, "axis": {"values": [-180,-135,-90,-45,0,45,90,135,180], "tickCount": 20, "labelPadding": 17, "titlePadding": 1, "title": "位相差[deg]"}}
     }},
    {"data": {"name": "pts"}, "transform": [{"filter": "datum.date == '4/25'"}],
     "mark": {"type": "point", "filled": true, "stroke": "#000", "strokeWidth": 1, "size": 144, "opacity": 1},
     "encoding": {
      "x": {"field": "speed", "type": "quantitative", "title": "車速[km/h]", "axis": {"values": [15,20,25,30,35,40,45], "tickCount": 20, "labelPadding": 12, "titlePadding": 5, "title": "車速[km/h]"}},
      "y": {"field": "phase", "type": "quantitative", "title": "位相差[deg]", "axis": {"values": [-180,-135,-90,-45,0,45,90,135,180], "tickCount": 20, "labelPadding": 17, "titlePadding": 1, "title": "位相差[deg]"}},
      "fill": {"field": "P", "type": "ordinal", "scale": {"range": ["#000", "#fff", "#000"]}, "legend": {"orient": "none", "legendX": 117, "legendY": -32, "title": null, "labelExpr": "'P=' + format(datum.value, '.1f') + 'm'", "labelFontSize": 17, "labelOffset": 9, "symbolOffset": 0, "symbolSize": 144, "padding": 7, "rowPadding": 3, "strokeColor": "#000", "fillColor": "#fff", "encode": {"symbols": {"update": {"stroke": {"value": "#000"}, "strokeWidth": {"value": 1}}}}}},
      "shape": {"field": "P", "type": "ordinal", "scale": {"range": ["triangle", "square", "M-1,-1L1,1M-1,1L1,-1"]}, "legend": {"orient": "none", "legendX": 117, "legendY": -32, "title": null, "labelExpr": "'P=' + format(datum.value, '.1f') + 'm'", "labelFontSize": 17, "labelOffset": 9, "symbolOffset": 0, "symbolSize": 144, "padding": 7, "rowPadding": 3, "strokeColor": "#000", "fillColor": "#fff"}}
     }},
    {"data": {"name": "ann"}, "transform": [{"filter": "datum.date == '4/25' && datum.k == 'b' && datum.role != 'text'"}],
     "mark": {"type": "line", "stroke": "#000", "strokeWidth": 1},
     "encoding": {"x": {"field": "speed", "type": "quantitative", "title": "車速[km/h]"}, "y": {"field": "phase", "type": "quantitative", "title": "位相差[deg]"}}},
    {"data": {"name": "ann"}, "transform": [{"filter": "datum.date == '4/25' && datum.k == 'b' && datum.role == 'start'"}],
     "mark": {"type": "point", "shape": "circle", "filled": true, "fill": "#000", "size": 18, "opacity": 1},
     "encoding": {"x": {"field": "speed", "type": "quantitative", "title": "車速[km/h]"}, "y": {"field": "phase", "type": "quantitative", "title": "位相差[deg]"}}},
    {"data": {"name": "ann"}, "transform": [{"filter": "datum.date == '4/25' && datum.k == 'b' && datum.role == 'end'"}],
     "mark": {"type": "point", "shape": "triangle", "filled": true, "fill": "#000", "size": 40, "angle": 67, "opacity": 1},
     "encoding": {"x": {"field": "speed", "type": "quantitative", "title": "車速[km/h]"}, "y": {"field": "phase", "type": "quantitative", "title": "位相差[deg]"}}},
    {"data": {"name": "ann"}, "transform": [{"filter": "datum.date == '4/25' && datum.k == 'b' && datum.role == 'text'"}],
     "mark": {"type": "text", "fontSize": 21, "align": "center", "baseline": "middle", "color": "#000"},
     "encoding": {"x": {"field": "speed", "type": "quantitative", "title": "車速[km/h]"}, "y": {"field": "phase", "type": "quantitative", "title": "位相差[deg]"}, "text": {"field": "label"}}}
   ]}
]
}
